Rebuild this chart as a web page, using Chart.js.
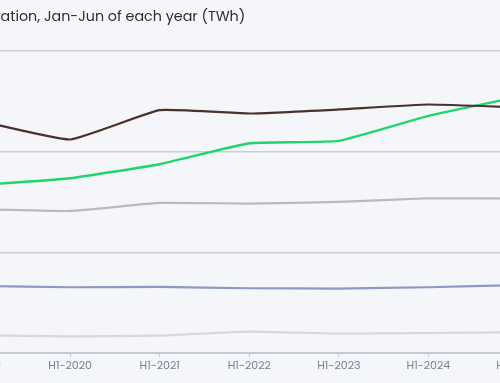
<!DOCTYPE html>
<html>
<head>
<meta charset="utf-8">
<script src="https://cdn.jsdelivr.net/npm/chart.js@4.4.1/dist/chart.umd.min.js"></script>
<style>
  html, body { margin: 0; padding: 0; background: #f5f6fa; }
  #wrap { position: relative; width: 500px; height: 383px; overflow: hidden; background: #f5f6fa; }
  #holder { position: absolute; top: 0; height: 383px; }
</style>
</head>
<body>
<div id="wrap"><div id="holder"><canvas id="c"></canvas></div></div>
<script>
// ---- data (TWh) ----
const titleText = "Global electricity generation, Jan-Jun of each year (TWh)";
const categories = ["H1-2019", "H1-2020", "H1-2021", "H1-2022", "H1-2023", "H1-2024", "H1-2025"];
const coal       = [4610, 4244, 4827, 4761, 4841, 4940, 4880];
const renewables = [3339, 3474, 3753, 4170, 4216, 4713, 5091];
const gas        = [2858, 2824, 2983, 2971, 3003, 3076, 3071];
const nuclear    = [1332, 1307, 1313, 1287, 1281, 1307, 1350];
const otherFossil= [350, 332, 346, 426, 386, 398, 416];
const yTicks     = [0, 2000, 4000, 6000];

// ---- layout: the reference is a crop of a wider chart ----
const fontFamily = "Poppins, 'Open Sans', sans-serif";
const titleSize = 14.3;
const titleFont = { family: fontFamily, size: titleSize, weight: '400' };
const mctx = document.createElement('canvas').getContext('2d');
mctx.font = "400 " + titleSize + "px " + fontFamily;
const prefixW = mctx.measureText("Global electricity gener").width;
const padL = 10, padR = 30;
const offsetX = padL + prefixW - 1;      // page x of title's "ation" ≈ 1
const yWidth = offsetX - 19 - padL;      // first category sits 19px left of the crop
const canvasW = Math.round(offsetX + 518.5 + padR);
const holder = document.getElementById('holder');
holder.style.left = (-offsetX) + 'px';
holder.style.width = canvasW + 'px';

const mk = (label, data, color, width) => ({
  label, data, borderColor: color, backgroundColor: color,
  borderWidth: width, pointRadius: 0, tension: 0.12, fill: false
});

new Chart(document.getElementById('c'), {
  type: 'line',
  data: {
    labels: categories,
    datasets: [
      mk('Coal', coal, '#4b302c', 2.2),
      mk('Renewables', renewables, '#1fd66e', 2.4),
      mk('Gas', gas, '#bfb8b7', 2.2),
      mk('Nuclear', nuclear, '#8e98c4', 2.2),
      mk('Other fossil', otherFossil, '#d8d8da', 2.2)
    ]
  },
  options: {
    responsive: true,
    maintainAspectRatio: false,
    animation: false,
    layout: { padding: { left: padL, right: padR, top: 0, bottom: 0 } },
    plugins: {
      legend: { display: false },
      tooltip: { enabled: false },
      title: {
        display: true, text: titleText, align: 'start',
        color: '#2f2f33', font: titleFont,
        padding: { top: 9, bottom: 25 }
      }
    },
    scales: {
      x: {
        afterFit: (s) => { s.height = 30; },
        grid: { display: true, drawOnChartArea: false, drawTicks: true, tickLength: 4, color: '#c6cad8' },
        border: { display: true, color: '#c6cad8', width: 2 },
        ticks: { color: '#7a8093', font: { family: fontFamily, size: 11 }, padding: 3, maxRotation: 0, autoSkip: false }
      },
      y: {
        min: 0, max: 6000,
        afterFit: (s) => { s.width = yWidth; },
        afterBuildTicks: (s) => { s.ticks = yTicks.map(v => ({ value: v })); },
        grid: { color: '#cdcdd3', lineWidth: 1.5, drawTicks: false },
        border: { display: false },
        ticks: { color: '#7a8093', font: { family: fontFamily, size: 11 }, padding: 8 }
      }
    }
  }
});
</script>
</body>
</html>
